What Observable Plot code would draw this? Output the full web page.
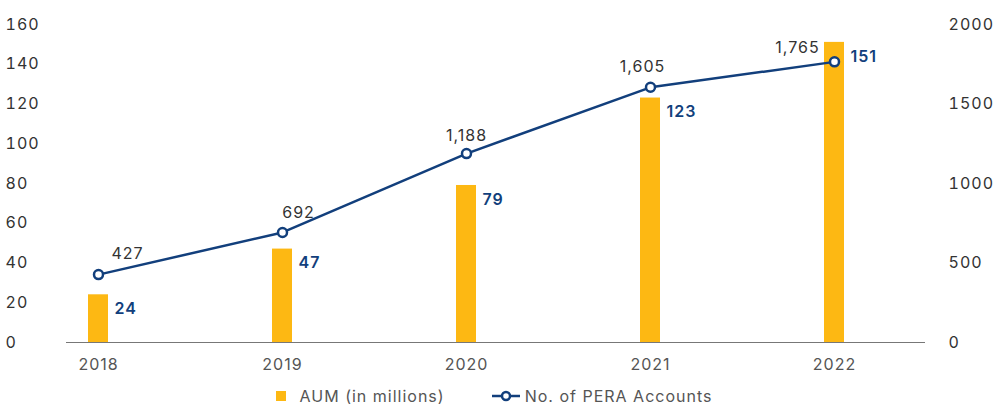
<!DOCTYPE html>
<html>
<head>
<meta charset="utf-8">
<script src="https://cdn.jsdelivr.net/npm/d3@7"></script>
<script src="https://cdn.jsdelivr.net/npm/@observablehq/plot@0.6"></script>
<style>
  html, body { margin: 0; padding: 0; background: #fff; }
  body { width: 994px; height: 405px; overflow: hidden; font-family: Inter, "Open Sans", sans-serif; letter-spacing: 1px; }
  #legend { display: flex; justify-content: center; align-items: center; height: 24px; margin-top: 4px; font-size: 16px; color: #555; padding-right: 6px; }
  .item { display: flex; align-items: center; }
  .sq { width: 10px; height: 10px; background: #FDB813; margin-right: 14px; }
</style>
</head>
<body>
<div id="chart"></div>
<div id="legend">
  <div class="item"><span class="sq"></span><span>AUM (in millions)</span></div>
  <div class="item" style="margin-left:46px">
    <svg width="30" height="12" style="margin-right:4px"><line x1="1" y1="6" x2="29" y2="6" stroke="#123F7C" stroke-width="2.5"/><circle cx="15" cy="6" r="4" fill="#fff" stroke="#123F7C" stroke-width="2.5"/></svg>
    <span>No. of PERA Accounts</span></div>
</div>
<script>
const years = ["2018", "2019", "2020", "2021", "2022"];
const aum = [24, 47, 79, 123, 151];
const accounts = [427, 692, 1188, 1605, 1765];
const leftTicks = [0, 20, 40, 60, 80, 100, 120, 140, 160];
const rightTicks = [0, 500, 1000, 1500, 2000];

const navy = "#123F7C", yellow = "#FDB813", textCol = "#333";
const k = 160 / 2000; // right-axis units -> left-axis units
const rows = years.map((y, i) => ({year: y, aum: aum[i], acc: accounts[i], accY: accounts[i] * k}));
const fmt = d3.format(",");

function countLabel(i, dx, dy) {
  return Plot.text(rows, {filter: (d, j) => j === i, x: "year", y: "accY", text: d => fmt(d.acc),
    dx, dy, fill: textCol, fontSize: 16});
}

const chart = Plot.plot({
  width: 994,
  height: 380,
  marginTop: 24,
  marginBottom: 38,
  marginLeft: 66,
  marginRight: 69,
  style: {fontFamily: "Inter, 'Open Sans', sans-serif", fontSize: "16px", color: textCol, letterSpacing: "1px", overflow: "visible"},
  x: {type: "band", domain: years, range: [88, 847], paddingInner: 0.892, paddingOuter: 0, align: 0},
  y: {domain: [0, 160]},
  marks: [
    Plot.axisY(leftTicks, {anchor: "left", tickSize: 0, textAnchor: "start", dx: -52, fill: textCol, fontSize: 16, label: null}),
    Plot.axisY(rightTicks.map(v => v * k), {anchor: "right", tickSize: 0, textAnchor: "start", dx: 14, tickFormat: d => String(Math.round(d / k)), fill: textCol, fontSize: 16, label: null}),
    Plot.axisX({tickSize: 0, tickPadding: 16, fill: "#555", fontSize: 16, label: null}),
    Plot.barY(rows, {x: "year", y: "aum", fill: yellow}),
    Plot.ruleY([0], {stroke: "#777", strokeWidth: 1.2}),
    Plot.line(rows, {x: "year", y: "accY", stroke: navy, strokeWidth: 2.5}),
    Plot.dot(rows, {x: "year", y: "accY", r: 4.5, fill: "#fff", stroke: navy, strokeWidth: 2.5}),
    Plot.text(rows, {x: "year", y: "aum", text: d => String(d.aum), textAnchor: "start", dx: 16, dy: 14, fill: navy, fontWeight: 600, fontSize: 16}),
    countLabel(0, 29, -21),
    countLabel(1, 16, -20),
    countLabel(2, 0, -18),
    countLabel(3, -8, -20),
    countLabel(4, -37, -14)
  ]
});
document.getElementById("chart").appendChild(chart);
</script>
</body>
</html>
